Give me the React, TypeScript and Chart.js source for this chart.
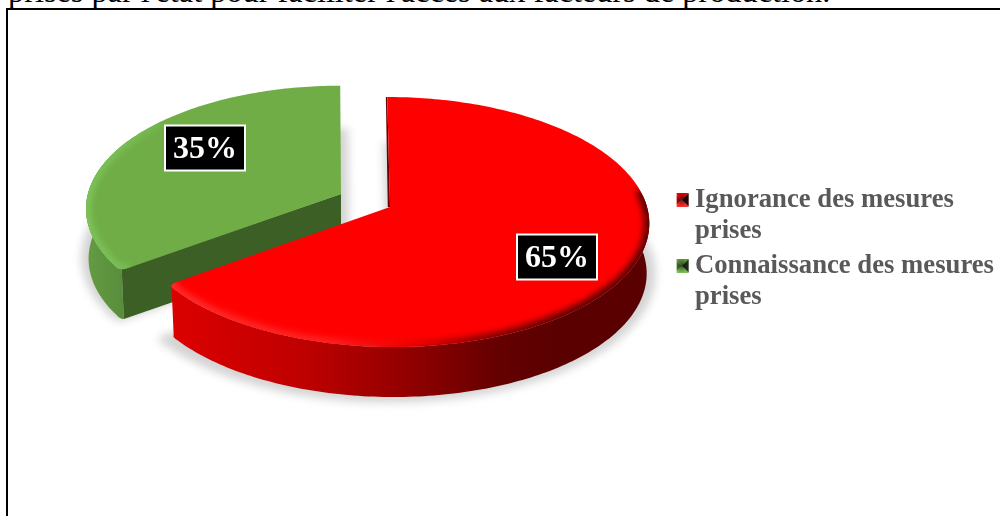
import React, { useEffect, useRef } from "react";
import { Chart, registerables } from "chart.js";

Chart.register(...registerables);

// Survey shares shown on the pie
const categories = [
  ["Ignorance des mesures", "prises"],
  ["Connaissance des mesures", "prises"],
];
const shares = [65, 35];
const shareLabels = ["65%", "35%"];
const captionLine = "prises par l'état pour faciliter l'accès aux facteurs de production.";

// Perspective model of the tilted disc
const RADIUS = 257;
const TILT = 123.2 / 257;
const PERSPECTIVE = 0.12;
const DEPTH = 50;
const DEPTH_TAPER = 0.99;

type Pt = { x: number; y: number };

// Per-slice placement and paint
const sliceStyles = [
  {
    cx: 390, cy: 207, scale: 1, shear: 0.025,
    top: "#ff0000",
    cut: "#6d0000",
    wallFrom: 85, wallTo: 240,
    wall: [[172, "#dc0000"], [300, "#c00000"], [400, "#960000"], [500, "#640000"], [560, "#5a0000"], [650, "#5a0000"]],
    bevelFrom: 82, bevelTo: 240,
    bevel: [[172, "#ff2c2c"], [330, "#ff2222"], [410, "#e80000"], [480, "#8a0000"], [560, "#560000"], [650, "#560000"]],
    shadow: { dx: -4, dy: 50, grow: 1.04 },
    label: { x: 557, y: 257 },
  },
  {
    cx: 341, cy: 194, scale: 0.985, shear: 0,
    top: "#70ad47",
    cut: "#3c5f26",
    wallFrom: 230, wallTo: 300,
    wall: [[80, "#679e44"], [130, "#568a3a"]],
    bevelFrom: 230, bevelTo: 310,
    bevel: [[80, "#7ec55a"], [130, "#78bd55"], [200, "#70ad47"]],
    shadow: { dx: 8, dy: 48, grow: 1.05 },
    label: { x: 205, y: 148 },
  },
];

type Style = (typeof sliceStyles)[number];

function project(s: Style, deg: number, r = 1): Pt {
  const a = (deg * Math.PI) / 180;
  const u = r * Math.sin(a);
  const v = -r * Math.cos(a);
  const w = 1 - PERSPECTIVE * v;
  const y = (s.scale * RADIUS * TILT * v) / w;
  return { x: s.cx + (s.scale * RADIUS * u) / w + y * s.shear, y: s.cy + y };
}

// Number of samples spent on the softened corner
const CORNER_STEPS = 10;

// Rim samples between two angles, with the corner on the shared boundary softened
function rim(s: Style, from: number, to: number, cornerAt: number): Pt[] {
  const pts: Pt[] = [];
  const trim = 1.8;
  const lo = cornerAt === from ? from + trim : from;
  const hi = cornerAt === to ? to - trim : to;
  const corner = project(s, cornerAt);
  const inner = project(s, cornerAt, 0.965);
  const curve = (p0: Pt, p1: Pt, p2: Pt) => {
    for (let i = 0; i <= CORNER_STEPS; i++) {
      const t = i / CORNER_STEPS;
      const k = 1 - t;
      pts.push({
        x: k * k * p0.x + 2 * k * t * p1.x + t * t * p2.x,
        y: k * k * p0.y + 2 * k * t * p1.y + t * t * p2.y,
      });
    }
  };
  if (cornerAt === from) curve(inner, corner, project(s, lo));
  for (let d = lo; d <= hi + 0.001; d += 1) pts.push(project(s, d));
  if (cornerAt === to) curve(project(s, hi), corner, inner);
  return pts;
}

const lower = (s: Style, p: Pt): Pt => ({
  x: s.cx + (p.x - s.cx) * DEPTH_TAPER,
  y: p.y + DEPTH,
});

function trace(ctx: CanvasRenderingContext2D, pts: Pt[]) {
  ctx.beginPath();
  pts.forEach((p, i) => (i ? ctx.lineTo(p.x, p.y) : ctx.moveTo(p.x, p.y)));
}

function ramp(ctx: CanvasRenderingContext2D, stops: any[]) {
  const x0 = stops[0][0];
  const x1 = stops[stops.length - 1][0];
  const g = ctx.createLinearGradient(x0, 0, x1, 0);
  stops.forEach(([x, c]) => g.addColorStop((x - x0) / (x1 - x0), c));
  return g;
}

function drawSlice(ctx: CanvasRenderingContext2D, s: Style, from: number, to: number, cornerAt: number, part: string) {
  const clampLo = Math.max(from, s.wallFrom);
  const clampHi = Math.min(to, s.wallTo);
  const outline = [{ x: s.cx, y: s.cy }, ...rim(s, from, to, cornerAt)];

  if (part === "shadow") {
    ctx.save();
    ctx.filter = "blur(4px)";
    ctx.fillStyle = "rgba(0,0,0,0.17)";
    trace(
      ctx,
      outline.map((p) => ({
        x: s.cx + (p.x - s.cx) * s.shadow.grow + s.shadow.dx,
        y: s.cy + (p.y - s.cy) * s.shadow.grow + s.shadow.dy,
      }))
    );
    ctx.closePath();
    ctx.fill();
    ctx.restore();
    return;
  }

  // outer wall, starting from the tip of the softened corner
  const full = rim(s, clampLo, clampHi, cornerAt);
  const half = CORNER_STEPS >> 1;
  const upper = cornerAt === from ? full.slice(half) : full.slice(0, full.length - half);
  ctx.fillStyle = ramp(ctx, s.wall);
  trace(ctx, [...upper, ...upper.map((p) => lower(s, p)).reverse()]);
  ctx.closePath();
  ctx.fill();

  // radial cut face that looks towards the viewer
  const corner = cornerAt === to ? upper[upper.length - 1] : upper[0];
  if (cornerAt === from) {
    const apex = { x: s.cx, y: s.cy };
    ctx.fillStyle = s.cut;
    trace(ctx, [apex, corner, lower(s, corner), lower(s, apex)]);
    ctx.closePath();
    ctx.fill();
  } else {
    // thin sliver along the start edge
    const head = project(s, from);
    ctx.fillStyle = s.cut;
    trace(ctx, [{ x: s.cx, y: s.cy }, { x: head.x, y: head.y }, { x: head.x - 1.4, y: head.y }, { x: s.cx - 2.2, y: s.cy }]);
    ctx.closePath();
    ctx.fill();
  }

  // top face
  ctx.fillStyle = s.top;
  trace(ctx, outline);
  ctx.closePath();
  ctx.fill();

  // soft bevel around the rim, kept inside the top face
  ctx.save();
  trace(ctx, outline);
  ctx.closePath();
  ctx.clip();
  ctx.filter = "blur(3px)";
  ctx.strokeStyle = ramp(ctx, s.bevel);
  ctx.lineWidth = 10;
  ctx.lineCap = "butt";
  trace(ctx, rim(s, Math.max(from, s.bevelFrom), Math.min(to, s.bevelTo), cornerAt));
  ctx.stroke();
  ctx.restore();
}

// Bevelled legend key: four shaded triangles inside a small square
function legendKey(colors: string[]) {
  const c = document.createElement("canvas");
  c.width = 18;
  c.height = 14;
  const g = c.getContext("2d")!;
  const o = 3;
  const size = 14;
  const m = { x: o + size / 2, y: size / 2 };
  const corners = [
    { x: o, y: 0 },
    { x: o + size, y: 0 },
    { x: o + size, y: size },
    { x: o, y: size },
  ];
  colors.forEach((col, i) => {
    g.fillStyle = col;
    g.beginPath();
    g.moveTo(corners[i].x, corners[i].y);
    g.lineTo(corners[(i + 1) % 4].x, corners[(i + 1) % 4].y);
    g.lineTo(m.x, m.y);
    g.closePath();
    g.fill();
  });
  // darker towards the tip of the pyramid
  const dim = g.createRadialGradient(m.x, m.y, 0, m.x, m.y, 7);
  dim.addColorStop(0, "rgba(0,0,0,0.55)");
  dim.addColorStop(1, "rgba(0,0,0,0)");
  g.fillStyle = dim;
  g.fillRect(o, 0, size, size);
  return c;
}

// top, right, bottom, left facets of each key
const keyColors = [
  ["#e80000", "#2a0000", "#ff3030", "#d80000"],
  ["#5f9a3c", "#1f3313", "#7cc25a", "#4f8431"],
];

const piePainter = {
  id: "tiltedPie",
  beforeDatasetsDraw(chart: any) {
    const ctx: CanvasRenderingContext2D = chart.ctx;
    const arcs = chart.getDatasetMeta(0).data;
    const spans = arcs.map((arc: any) => {
      const props = arc.getProps(["startAngle", "endAngle"], true);
      return {
        from: ((props.startAngle + Math.PI / 2) * 180) / Math.PI,
        to: ((props.endAngle + Math.PI / 2) * 180) / Math.PI,
      };
    });
    const boundary = spans[0].to;
    const order = [1, 0];
    ["shadow", "body"].forEach((part) =>
      order.forEach((i) => drawSlice(ctx, sliceStyles[i], spans[i].from, spans[i].to, boundary, part))
    );
    // value tags
    shareLabels.forEach((text, i) => {
      const { x, y } = sliceStyles[i].label;
      ctx.save();
      ctx.fillStyle = "#000";
      ctx.strokeStyle = "#fff";
      ctx.lineWidth = 2;
      ctx.fillRect(x - 40, y - 22.5, 80, 45);
      ctx.strokeRect(x - 40, y - 22.5, 80, 45);
      ctx.fillStyle = "#fff";
      ctx.font = "bold 32px 'Liberation Serif'";
      ctx.textAlign = "center";
      ctx.textBaseline = "middle";
      ctx.fillText(text, x, y + 2);
      ctx.restore();
    });
    return false;
  },
};

export default function App() {
  const ref = useRef<HTMLCanvasElement>(null);
  useEffect(() => {
    const chart = new Chart(ref.current!, {
      type: "pie",
      data: {
        labels: categories.map((c) => c.join(" ")),
        datasets: [{ data: shares, backgroundColor: ["#ff0000", "#70ad47"] }],
      },
      plugins: [piePainter],
      options: {
        responsive: false,
        animation: false,
        layout: { padding: { right: -4, bottom: 14 } },
        plugins: {
          tooltip: { enabled: false },
          legend: {
            position: "right",
            labels: {
              usePointStyle: true,
              boxWidth: 2,
              boxHeight: 2,
              padding: 3,
              color: "#595959",
              font: { family: "'Liberation Serif'", size: 26.7, weight: "bold", lineHeight: 1.18 },
              generateLabels: () =>
                categories.map((lines, i) => ({
                  text: lines,
                  fontColor: "#595959",
                  pointStyle: legendKey(keyColors[i]) as any,
                  hidden: false,
                  index: i,
                  lineWidth: 0,
                })),
            },
          },
        },
      },
    });
    return () => chart.destroy();
  }, []);

  return (
    <div style={{ position: "fixed", left: 0, top: 0, width: 1000, height: 516, overflow: "hidden", background: "#fff" }}>
      <div
        style={{
          position: "absolute",
          left: 8,
          top: -24,
          font: "32.3px/30px 'Liberation Serif'",
          color: "#000",
          whiteSpace: "nowrap",
        }}
      >
        {captionLine}
      </div>
      <div
        style={{
          position: "absolute",
          left: 6,
          top: 8,
          width: 1010,
          height: 520,
          borderLeft: "2px solid #000",
          borderTop: "2px solid #000",
          boxSizing: "border-box",
          background: "#fff",
        }}
      />
      <canvas ref={ref} width={1000} height={516} style={{ position: "absolute", left: 0, top: 0, display: "block" }} />
    </div>
  );
}
